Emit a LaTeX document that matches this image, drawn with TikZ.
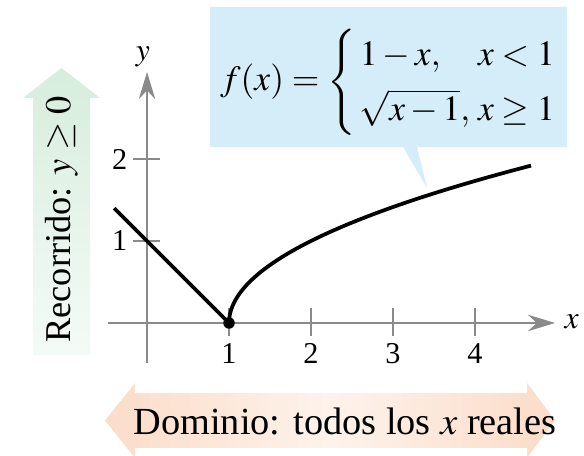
\documentclass[tikz,border=0pt]{standalone}
\usepackage{mathptmx}
\usepackage{fontspec}
\setmainfont{Liberation Serif}
\usetikzlibrary{arrows.meta}
\definecolor{AxisGray}{HTML}{8A8A8A}
\definecolor{CallBlue}{HTML}{D4EDF9}
\definecolor{RangeGreen}{HTML}{D6EDDD}
\definecolor{DomPeach}{HTML}{FBDCC8}
\tikzset{
  axis/.style={draw=AxisGray, line width=0.9pt},
  axisarrow/.style={axis, -{Stealth[length=3.3mm,width=2mm]}},
  tick/.style={draw=AxisGray, line width=0.9pt},
  ticklabel/.style={font=\fontsize{10.5}{12}\selectfont, inner sep=1pt},
  graph/.style={draw=black, line width=1.3pt},
  bigtext/.style={font=\fontsize{13.3}{15}\selectfont, inner sep=0pt}
}
\begin{document}
\begin{tikzpicture}
    \useasboundingbox (-1.793,-1.622) rectangle (5.329,3.939);
    % range and domain arrows
    \shade[top color=RangeGreen, bottom color=RangeGreen!25]
      (-1.390,-0.390) -- (-1.390,2.744) -- (-1.512,2.744) -- (-1.043,3.110)
      -- (-0.573,2.744) -- (-0.695,2.744) -- (-0.695,-0.390) -- cycle;
    \shade[left color=DomPeach, right color=DomPeach, middle color=DomPeach!35]
      (-0.512,-1.189) -- (-0.146,-0.732) -- (-0.146,-0.854) -- (4.634,-0.854)
      -- (4.634,-0.732) -- (4.976,-1.189) -- (4.634,-1.646) -- (4.634,-1.524)
      -- (-0.146,-1.524) -- (-0.146,-1.646) -- cycle;
    \node[bigtext, font=\fontsize{12.6}{15}\selectfont, rotate=90] (range)
      at (-1.043,1.262) {Recorrido: $y \geq 0$};
    \node[bigtext] (domain) at (2.415,-1.195) {Dominio: todos los $x$ reales};
    % callout
    \fill[CallBlue] (0.768,2.146) -- (3.122,2.146) -- (3.415,1.646) -- (3.293,2.146)
      -- (5.122,2.146) -- (5.122,3.854) -- (0.768,3.854) -- cycle;
    \node[font=\fontsize{12.3}{15}\selectfont, inner sep=1pt] (rule) at (2.955,2.94)
      {\renewcommand{\arraystretch}{1.27}%
       $f(x) = \left\{\,\begin{array}{@{}l@{\;}l@{}}
         1 - x, & x < 1\\
         \sqrt{x - 1}, & x \geq 1
       \end{array}\right.$};
    % axes
    \coordinate (xl) at (-0.476,0);
    \coordinate (xr) at (4.976,0);
    \coordinate (yb) at (0,-0.49);
    \coordinate (yt) at (0,3.06);
    \draw[axisarrow] (xl) -- (xr);
    \draw[axisarrow] (yb) -- (yt);
    \node[font=\fontsize{11}{13.2}\selectfont] (xlab) at (5.18,0.01) {$x$};
    \node[font=\fontsize{11}{13.2}\selectfont] (ylab) at (-0.05,3.25) {$y$};
    \foreach \i in {1,...,4} {
      \draw[tick] (\i,0.18) -- (\i,-0.16);
      \node[ticklabel] (xt\i) at (\i,-0.37) {\i};
    }
    \foreach \i in {1,2} {
      \draw[tick] (-0.17,\i) -- (0.16,\i);
      \node[ticklabel, anchor=east] (yt\i) at (-0.2,\i) {\i};
    }
    % the function
    \draw[graph] (-0.4,1.4) -- (1,0);
    \draw[graph] plot[domain=0:1.92, samples=80] ({1+\x*\x},\x);
    \fill (1,0) circle (0.07);
\end{tikzpicture}
\end{document}
